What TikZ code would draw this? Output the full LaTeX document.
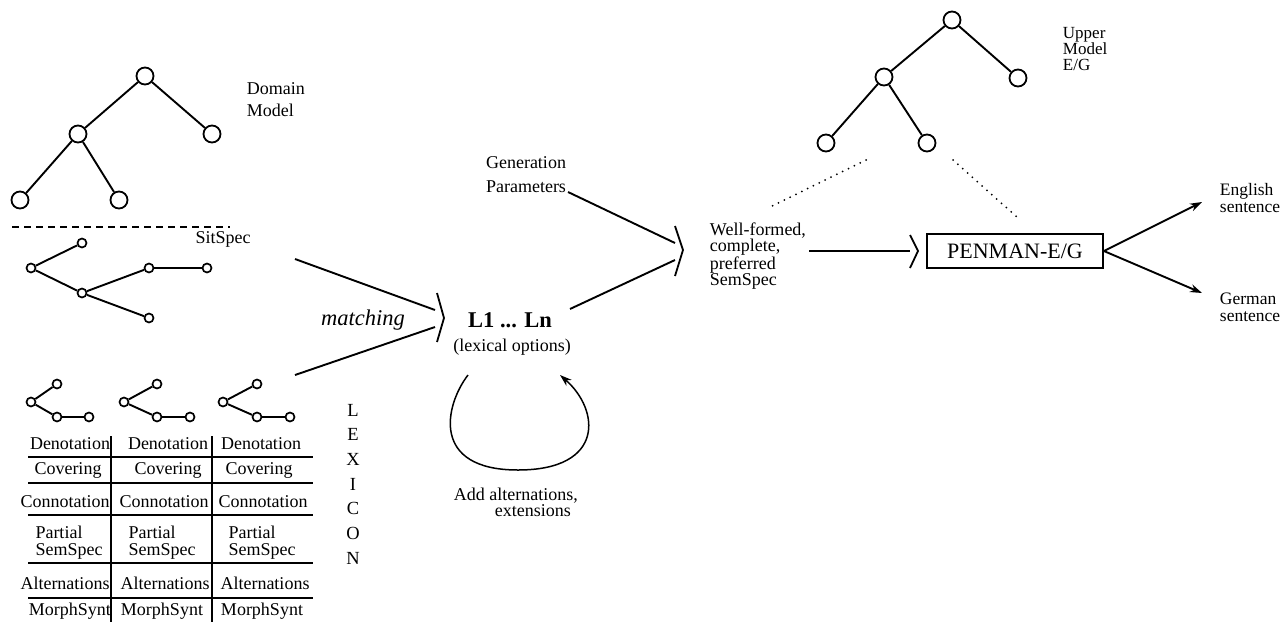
\documentclass[tikz,border=0pt]{standalone}
\usepackage{fontspec}
\setmainfont{Liberation Serif}
\usetikzlibrary{arrows.meta}

\begin{document}
\begin{tikzpicture}[x=1pt, y=-1pt, line width=1.9pt, >={Stealth[length=12pt,width=8pt]}]

% --- styles ---
\tikzset{
  bignode/.style={circle, draw, line width=1.8pt, minimum size=17pt, inner sep=0pt},
  smallnode/.style={circle, draw, line width=1.7pt, minimum size=9pt, inner sep=0pt},
  txt/.style={font=\fontsize{18}{16}\selectfont, inner sep=0pt},
  cell/.style={txt, align=left},
  bracket/.style={line width=1.8pt, line join=miter},
  dots/.style={line width=2pt, line cap=round, dash pattern=on 0pt off 6.5pt}
}

\useasboundingbox (0,0) rectangle (1281,630);

% --- Domain Model ---
\node[bignode] (dm)  at (145,76)  {};
\node[bignode] (dma) at (78,134)  {};
\node[bignode] (dmb) at (212,134) {};
\node[bignode] (dmc) at (20,200)  {};
\node[bignode] (dmd) at (119,200) {};
\draw (dm) -- (dma);  \draw (dm) -- (dmb);
\draw (dma) -- (dmc); \draw (dma) -- (dmd);
\node[txt, align=left, anchor=north west, font=\fontsize{18}{22}\selectfont] (dmlabel) at (246,82) {Domain\\Model};

% --- SitSpec ---
\draw[line width=1.5pt, dash pattern=on 7pt off 5pt] (12,227) -- (230,227);
\node[txt] (sslabel) at (223,239) {SitSpec};
\node[smallnode] (ssa) at (31,268)  {};
\node[smallnode] (ssb) at (82,243)  {};
\node[smallnode] (ssc) at (82,293)  {};
\node[smallnode] (ssd) at (149,268) {};
\node[smallnode] (sse) at (207,268) {};
\node[smallnode] (ssf) at (149,318) {};
\draw (ssa) -- (ssb); \draw (ssa) -- (ssc);
\draw (ssc) -- (ssd); \draw (ssd) -- (sse); \draw (ssc) -- (ssf);

% --- Lexicon entries: small trees ---
\node[smallnode] (lxa) at (31,402)  {}; \node[smallnode] (lxat) at (57,384)  {};
\node[smallnode] (lxab) at (57,417) {}; \node[smallnode] (lxar) at (89,417)  {};
\node[smallnode] (lxb) at (124,402) {}; \node[smallnode] (lxbt) at (157,384) {};
\node[smallnode] (lxbb) at (157,417) {}; \node[smallnode] (lxbr) at (190,417) {};
\node[smallnode] (lxc) at (223,402) {}; \node[smallnode] (lxct) at (257,384) {};
\node[smallnode] (lxcb) at (257,417) {}; \node[smallnode] (lxcr) at (290,417) {};
\draw (lxa) -- (lxat); \draw (lxa) -- (lxab); \draw (lxab) -- (lxar);
\draw (lxb) -- (lxbt); \draw (lxb) -- (lxbb); \draw (lxbb) -- (lxbr);
\draw (lxc) -- (lxct); \draw (lxc) -- (lxcb); \draw (lxcb) -- (lxcr);

% --- Lexicon table ---
\draw[line width=1.6pt] (28,457) -- (313,457);
\draw[line width=1.6pt] (28,483) -- (313,483);
\draw[line width=1.6pt] (28,515) -- (313,515);
\draw[line width=1.6pt] (28,563) -- (313,563);
\draw[line width=1.6pt] (28,598) -- (313,598);
\draw[line width=1.6pt] (111,436) -- (111,622);
\draw[line width=1.6pt] (212,436) -- (212,622);

\node[cell] (dena) at (70,444)  {Denotation};
\node[cell] (denb) at (168,444) {Denotation};
\node[cell] (denc) at (261,444) {Denotation};
\node[cell] (cova) at (68,470)  {Covering};
\node[cell] (covb) at (168,470) {Covering};
\node[cell] (covc) at (259,470) {Covering};
\node[cell] (cona) at (65,502)  {Connotation};
\node[cell] (conb) at (164,502) {Connotation};
\node[cell] (conc) at (263,502) {Connotation};
\node[cell, font=\fontsize{18}{17}\selectfont] (psa) at (69,543)  {Partial\\SemSpec};
\node[cell, font=\fontsize{18}{17}\selectfont] (psb) at (162,543) {Partial\\SemSpec};
\node[cell, font=\fontsize{18}{17}\selectfont] (psc) at (262,543) {Partial\\SemSpec};
\node[cell] (alta) at (65,583)  {Alternations};
\node[cell] (altb) at (165,583) {Alternations};
\node[cell] (altc) at (265,583) {Alternations};
\node[cell] (msa) at (70,611)  {MorphSynt};
\node[cell] (msb) at (162,611) {MorphSynt};
\node[cell] (msc) at (262,611) {MorphSynt};

\node[txt, align=center, anchor=north, font=\fontsize{18.5}{24.7}\selectfont] (lexicon) at (353,403) {L\\E\\X\\I\\C\\O\\N};

% --- matching ---
\coordinate (sitout) at (295,259);
\coordinate (lexout) at (295,375);
\coordinate (mup)  at (435,310);
\coordinate (mlow) at (435,327);
\coordinate (mbt)  at (437,293);
\coordinate (mbm)  at (444,318);
\coordinate (mbb)  at (437,342);
\draw (sitout) -- (mup);
\draw (lexout) -- (mlow);
\draw[bracket] (mbt) -- (mbm) -- (mbb);
\node[txt, font=\fontsize{22.5}{24}\itshape] (matching) at (363,320) {matching};

\node[txt, font=\fontsize{22.5}{24}\bfseries] (lopts) at (510,320) {L1 ... Ln};
\node[txt] (lexopt) at (512,347) {(lexical options)};

% --- loop ---
\coordinate (loopa) at (468,375);
\coordinate (loopb) at (518,470);
\coordinate (loopc) at (560,375);
\draw[->, line width=1.5pt] (loopa) .. controls (445,405) and (430,470) .. (loopb)
   .. controls (605,470) and (600,410) .. (loopc);
\node[txt, align=left, anchor=north west] (addalt) at (453,487) {Add alternations,\\\hspace*{41pt}extensions};

% --- Generation Parameters ---
\node[txt, align=center, anchor=north, font=\fontsize{18}{24}\selectfont] (genpar) at (526,156) {Generation\\Parameters};
\coordinate (gpout) at (568,192);
\coordinate (gpin)  at (675,243);
\coordinate (lnout) at (570,309);
\coordinate (lnin)  at (675,260);
\coordinate (sbt) at (675,226);
\coordinate (sbm) at (683,250);
\coordinate (sbb) at (675,276);
\draw (gpout) -- (gpin);
\draw (lnout) -- (lnin);
\draw[bracket] (sbt) -- (sbm) -- (sbb);

\node[txt, align=left, anchor=north west] (wellformed) at (709,222) {Well-formed,\\complete,\\preferred\\SemSpec};

% --- PENMAN ---
\coordinate (wfout) at (809,251);
\coordinate (pmin)  at (910,251);
\coordinate (pbt) at (910,235);
\coordinate (pbm) at (918,251);
\coordinate (pbb) at (910,268);
\draw (wfout) -- (pmin);
\draw[bracket] (pbt) -- (pbm) -- (pbb);
\node[draw, line width=1.8pt, minimum width=176pt, minimum height=34pt, inner sep=0pt,
      font=\fontsize{22}{24}\selectfont] (penman) at (1015,251) {PENMAN-E/G};

\coordinate (engtip) at (1202,202);
\coordinate (gertip) at (1202,293);
\draw[->] (penman.east) -- (engtip);
\draw[->] (penman.east) -- (gertip);
\node[txt, align=left, anchor=north west, font=\fontsize{17.5}{17}\selectfont] (english) at (1219,182) {English\\sentence};
\node[txt, align=left, anchor=north west, font=\fontsize{17.5}{17}\selectfont] (german) at (1219,292) {German\\sentence};

% --- Upper Model ---
\node[bignode] (um)  at (952,20)  {};
\node[bignode] (uma) at (884,77)  {};
\node[bignode] (umb) at (1018,78) {};
\node[bignode] (umc) at (826,143) {};
\node[bignode] (umd) at (927,143) {};
\draw (um) -- (uma);  \draw (um) -- (umb);
\draw (uma) -- (umc); \draw (uma) -- (umd);
\node[txt, align=left, anchor=north west, font=\fontsize{17}{16}\selectfont] (umlabel) at (1062,26) {Upper\\Model\\E/G};

% dotted links to the upper model
\coordinate (dla) at (866,160);
\coordinate (dlb) at (768,208);
\coordinate (dra) at (953,160);
\coordinate (drb) at (1018,218);
\draw[dots] (dla) -- (dlb);
\draw[dots] (dra) -- (drb);

\end{tikzpicture}
\end{document}
